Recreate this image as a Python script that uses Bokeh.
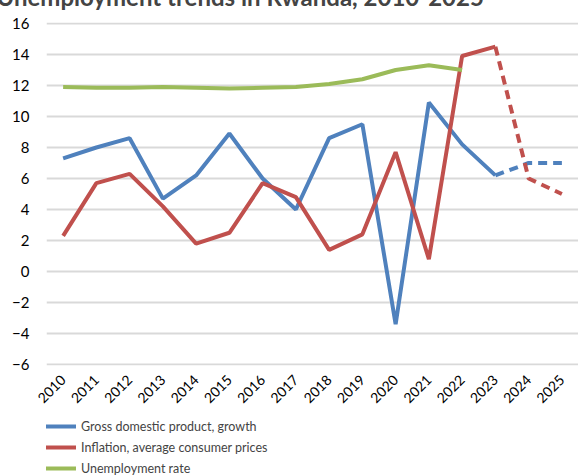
from bokeh.plotting import figure
from bokeh.layouts import column
from bokeh.models import FactorRange, Range1d, Legend, LegendItem, FixedTicker
from bokeh.embed import file_html
from bokeh.resources import INLINE
import math

title_text = "Unemployment trends in Rwanda, 2010-2025"
years = [str(y) for y in range(2010, 2026)]
gdp = [7.3, 8.0, 8.6, 4.7, 6.2, 8.9, 6.0, 4.0, 8.6, 9.5, -3.4, 10.9, 8.2, 6.2, 7.0, 7.0]
inflation = [2.3, 5.7, 6.3, 4.2, 1.8, 2.5, 5.7, 4.8, 1.4, 2.4, 7.7, 0.8, 13.9, 14.5, 6.0, 5.0]
unemployment = [11.9, 11.85, 11.85, 11.9, 11.85, 11.8, 11.85, 11.9, 12.1, 12.4, 13.0, 13.3, 13.0]
y_ticks = [-6, -4, -2, 0, 2, 4, 6, 8, 10, 12, 14, 16]
series_names = ["Gross domestic product, growth", "Inflation, average consumer prices", "Unemployment rate"]
last_actual = years.index("2023")

FONT = "Lato"
BLUE, RED, GREEN = "#4F81BD", "#C0504D", "#9BBB59"
W = 4

p = figure(width=582, height=443, output_backend="svg", toolbar_location=None,
           x_range=FactorRange(factors=years, range_padding=0),
           y_range=Range1d(-6.06, 16.06),
           min_border_left=50, min_border_right=0, min_border_top=0, min_border_bottom=41)
p.outline_line_color = None
p.background_fill_color = "white"
p.border_fill_color = "white"

p.title.text = title_text
p.title.text_font = FONT
p.title.text_font_size = "24px"
p.title.text_font_style = "bold"
p.title.align = "left"
p.title.offset = -50
p.title.standoff = 24

p.xgrid.grid_line_color = None
p.ygrid.grid_line_color = "#D9D9D9"
p.ygrid.grid_line_width = 2
p.yaxis.ticker = FixedTicker(ticks=y_ticks)

for ax in (p.xaxis, p.yaxis):
    ax.axis_line_color = None
    ax.major_tick_line_color = None
    ax.minor_tick_line_color = None
    ax.major_label_text_font = FONT
    ax.major_label_text_color = "black"
p.yaxis.major_label_text_font_size = "15px"
p.yaxis.major_label_standoff = 11
p.xaxis.major_label_text_font_size = "14px"
p.xaxis.major_label_orientation = math.pi / 4
p.xaxis.major_label_standoff = 6

series = [(gdp, BLUE), (inflation, RED)]
for vals, col in series:
    p.line(years[:last_actual + 1], vals[:last_actual + 1], line_color=col, line_width=W)
    p.line(years[last_actual:], vals[last_actual:], line_color=col, line_width=W, line_dash="9 6")
p.line(years[:len(unemployment)], unemployment, line_color=GREEN, line_width=W)

# legend strip below the chart (its lines sit outside its visible range)
q = figure(width=582, height=75, output_backend="svg", toolbar_location=None,
           x_axis_location=None, y_axis_location=None,
           x_range=FactorRange(factors=years, range_padding=0), y_range=Range1d(100, 101),
           min_border_left=0, min_border_right=0, min_border_top=0, min_border_bottom=0)
q.grid.grid_line_color = None
q.outline_line_color = None
q.border_fill_color = "white"
q.background_fill_color = "white"
r1 = q.line(years, gdp, line_color=BLUE, line_width=W)
r2 = q.line(years, inflation, line_color=RED, line_width=W)
r3 = q.line(years[:len(unemployment)], unemployment, line_color=GREEN, line_width=W)
legend = Legend(items=[LegendItem(label=n, renderers=[r]) for n, r in zip(series_names, [r1, r2, r3])],
                location=(-24, 7), orientation="vertical",
                label_text_font=FONT, label_text_font_size="12.5px",
                glyph_width=54, glyph_height=20, spacing=1, label_standoff=5,
                padding=0, margin=0, border_line_color=None,
                background_fill_alpha=0)
q.add_layout(legend)

layout = column(p, q, spacing=0)
layout.styles = {"margin-top": "-33px", "margin-left": "-4px"}

open("out.html", "w").write(file_html(layout, INLINE))
